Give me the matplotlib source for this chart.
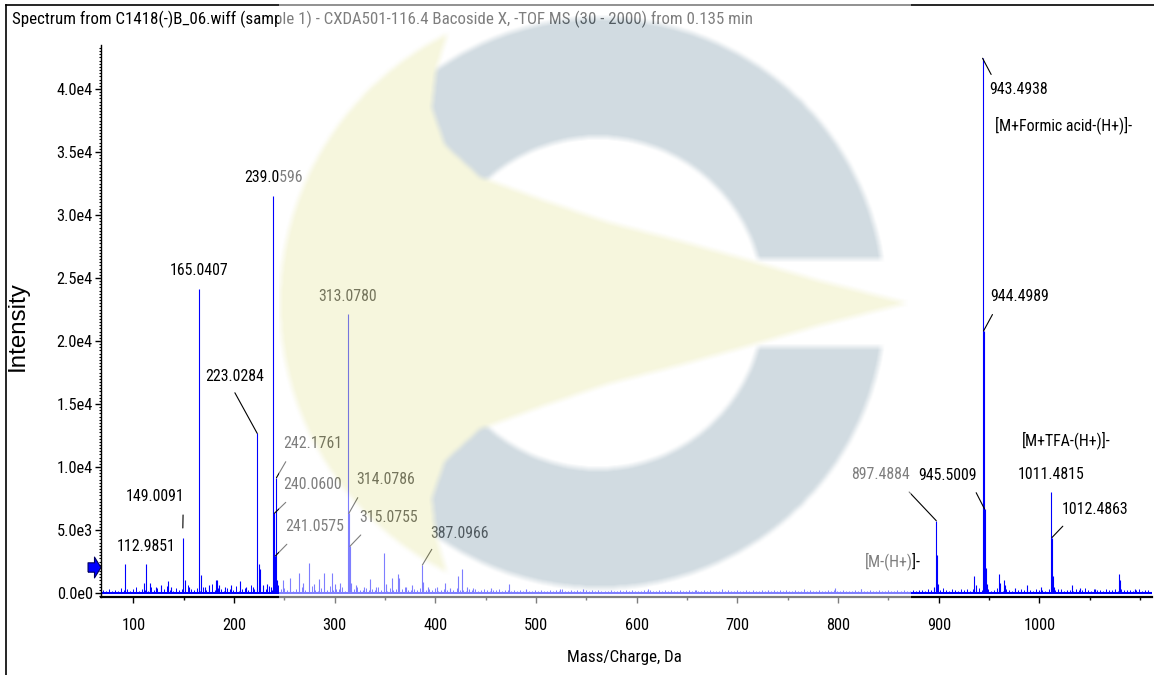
import numpy as np
import matplotlib
matplotlib.use('Agg')
import matplotlib.pyplot as plt
from matplotlib import font_manager
from matplotlib.font_manager import FontProperties
from matplotlib.path import Path
from matplotlib.lines import Line2D
from matplotlib.ticker import MultipleLocator

title = ("Spectrum from C1418(-)B_06.wiff (sample 1) - CXDA501-116.4 Bacoside X, "
         "-TOF MS (30 - 2000) from 0.135 min")

# main peaks (m/z, intensity)
peak_mz = [91.3, 111.0, 112.99, 117.0, 123.0, 127.0, 134.8, 137.0, 149.01, 151.0,
           155.0, 165.04, 167.2, 171.0, 175.0, 181.8, 183.0, 185.0, 191.0, 197.0,
           206.0, 212.0, 219.0, 223.03, 224.6, 225.5, 229.0, 233.0, 237.0, 239.06,
           240.06, 241.06, 242.18, 243.2, 249.0, 255.7, 264.5, 269.0, 274.8, 279.0,
           284.8, 289.4, 297.0, 300.0, 305.3, 313.08, 314.08, 315.08, 316.0, 321.0,
           329.0, 335.0, 341.0, 349.3, 351.0, 357.3, 363.3, 364.3, 371.0, 377.0,
           387.1, 388.1, 393.0, 402.0, 409.3, 415.0, 422.8, 426.8, 431.0, 437.0,
           455.0, 473.5, 490.0, 523.9, 547.0, 611.0, 659.0, 730.0, 797.0, 822.3,
           895.5, 897.49, 898.5, 899.5, 934.8, 936.7, 943.49, 944.50, 945.50, 946.5,
           947.5, 960.2, 961.2, 965.0, 966.0, 976.0, 987.6, 1001.4, 1011.48, 1012.49,
           1013.5, 1014.5, 1032.8, 1040.0, 1055.0, 1078.8, 1080.0, 1095.0]
peak_int = [2300, 820, 2280, 800, 500, 600, 950, 500, 4390, 1000,
            500, 24130, 1400, 500, 600, 1030, 1030, 600, 500, 600,
            980, 500, 500, 12670, 2330, 1900, 600, 700, 500, 31500,
            6320, 2940, 9150, 1000, 1030, 1200, 1560, 800, 2420, 700,
            1100, 1550, 1580, 700, 820, 22140, 6320, 3700, 800, 600,
            500, 1100, 500, 3200, 700, 1220, 1530, 1200, 500, 600,
            2220, 900, 500, 500, 820, 400, 1330, 1920, 500, 400,
            400, 700, 300, 350, 300, 300, 250, 250, 400, 350,
            500, 5740, 3000, 700, 1320, 600, 42440, 20800, 6660, 1980,
            700, 1470, 800, 1030, 600, 400, 600, 480, 8016, 4405,
            1350, 500, 600, 400, 350, 1520, 1000, 300]

# baseline noise, every 3 Da starting at m/z 70
grass_int = [220, 150, 310, 180, 260, 140, 420, 200, 350, 170, 280, 510, 190, 330, 240,
             160, 450, 260, 380, 210, 300, 560, 230, 180, 410, 270, 330, 150, 620, 290,
             240, 380, 180, 470, 250, 320, 700, 210, 360, 280, 190, 430, 300, 250, 520,
             180, 340, 410, 230, 600, 280, 350, 200, 460, 310, 520, 260, 380, 640, 300,
             380, 250, 420, 190, 350, 280, 460, 220, 310, 520, 260, 180, 400, 300, 240,
             560, 210, 330, 280, 450, 190, 360, 250, 300, 480, 220, 270, 390, 200, 340,
             260, 510, 230, 300, 180, 420, 270, 350, 210, 290, 460, 240, 200, 330, 270,
             380, 190, 250, 310, 220, 400, 180, 270, 330, 210, 290, 240, 360, 200, 260,
             190, 310, 230, 280, 170, 250, 320, 200, 180, 260, 220, 300, 170, 240, 200,
             190, 260,
             160, 220, 130, 250, 180, 140, 210, 170, 260, 120, 190, 230, 150, 200, 170,
             280, 140, 190, 220, 130, 240, 160, 180, 210, 150, 230, 120, 260, 170, 190,
             140, 220, 180, 150, 250, 130, 200, 170, 230, 160, 190, 120, 270, 150, 210,
             180, 140, 230, 170, 200, 130, 250, 160, 190, 220, 140, 180, 210, 150, 240,
             170, 130, 200, 180, 230, 150, 190, 160, 280, 140, 210, 170, 120, 230, 190,
             150, 200, 170, 240, 130, 180, 220, 160, 190, 140, 250, 170, 200, 150, 230,
             130, 190, 210, 160, 180, 300, 150, 200, 170, 140, 220, 190, 160, 230, 130,
             200, 180, 150, 240, 170, 190, 140, 210, 160, 320, 180, 130, 200, 170, 150,
             230, 190, 140, 210, 160, 180, 250, 150, 200, 170, 190, 230, 160, 210,
             260, 180, 320, 220, 150, 290, 240, 380, 200, 170, 310, 260, 190, 350, 230,
             280, 160, 300, 240, 410, 200, 270, 330, 180, 250, 360, 220, 190, 300, 260,
             170, 340, 230, 280, 200, 390, 250, 180, 310, 220, 270, 160, 330, 240, 200,
             290, 350, 190, 260, 230, 180, 310, 270, 210, 380, 240, 170, 300, 220, 260,
             190, 330, 250, 200, 280, 170, 310, 230, 200, 260, 190, 240, 300, 180, 220, 200]
grass_mz = 70 + 3 * np.arange(len(grass_int))

# labelled peaks
label_text = ["112.9851", "149.0091", "165.0407", "223.0284", "239.0596", "240.0600",
              "241.0575", "242.1761", "313.0780", "314.0786", "315.0755", "387.0966",
              "897.4884", "[M-(H+)]-", "943.4938", "[M+Formic acid-(H+)]-", "944.4989",
              "945.5009", "1011.4815", "[M+TFA-(H+)]-", "1012.4863"]
label_mz = [112.99, 149.01, 165.04, 223.03, 239.06, 240.06, 241.06, 242.18, 313.08,
            314.08, 315.08, 387.1, 897.49, 897.49, 943.49, 943.49, 944.50, 945.50,
            1011.48, 1011.48, 1012.49]
label_int = [2280, 4390, 24130, 12670, 31500, 6320, 2940, 9150, 22140, 6320, 3700, 2220,
             5740, 5740, 42440, 42440, 20800, 6660, 8016, 8016, 4405]

y_ticks = [0, 5000, 10000, 15000, 20000, 25000, 30000, 35000, 40000]
y_tick_labels = ["0.0e0", "5.0e3", "1.0e4", "1.5e4", "2.0e4", "2.5e4", "3.0e4", "3.5e4", "4.0e4"]
x_ticks = [100, 200, 300, 400, 500, 600, 700, 800, 900, 1000]

# layout: text offsets (pixels from peak top), leader segments (top end offset, gap at peak)
text_off = [(0, 18), (-28, 41), (0, 18), (-22, 57), (0, 19), (38, 29),
            (39, 29), (36, 34), (0, 18), (37, 34), (39, 29), (37, 32),
            (-56, 46), (-43, -40), (36, -31), (81, -67), (36, 34),
            (-37, 34), (0, 18), (15, 52), (43, 28)]
leader = [None, (0.4, 22.7, 9.7), None, (-22.3, 40.6, 0), None, (11.4, 11, 0),
          (11.5, 11.7, 0), (9.3, 16, 0), None, (8.9, 15.7, 0), (10.9, 11.4, 0), (9.4, 15.7, 0),
          (-27.1, 28.7, 0), None, (8.6, -16.2, 0), None, (8.9, 16.4, 0),
          (-8.4, 16.4, 0), None, None, (10.8, 11.3, 0)]


def pick_font():
    entries = [(f.name, str(f.stretch)) for f in font_manager.fontManager.ttflist]
    names = {n for n, _ in entries}
    for fam in ['Liberation Sans Narrow', 'Roboto Condensed', 'Open Sans Condensed',
                'Noto Sans Condensed', 'DejaVu Sans Condensed']:
        if fam in names:
            return fam, 'normal'
    for fam in ['Roboto', 'Open Sans', 'Noto Sans', 'DejaVu Sans', 'Liberation Sans']:
        for n, s in entries:
            if n == fam and s in ('condensed', 'semi-condensed', 'extra-condensed'):
                return fam, s
    return 'Liberation Sans', 'normal'


FAM, STRETCH = pick_font()
plt.rcParams['font.family'] = [FAM, 'DejaVu Sans']
plt.rcParams['font.stretch'] = STRETCH

W, H = 1154, 675
fig = plt.figure(figsize=(W / 100, H / 100), dpi=100)
fig.patch.set_facecolor('white')
renderer = fig.canvas.get_renderer()


def fit(s, target, family=None, stretch=None):
    fp = FontProperties(family=family or FAM, stretch=stretch or STRETCH, size=10)
    w, _, _ = renderer.get_text_width_height_descent(s, fp, ismath=False)
    return 10 * target / w


fs_lab = fit("239.0596", 59)
fs_tick = fit("4.0e4", 36)
fs_title = fit(title, 738)
fs_xlab = fit("Mass/Charge, Da", 114)
fs_ylab = fit("Intensity", 90, family='Liberation Sans', stretch='normal')

ax = fig.add_axes([101 / W, (H - 597) / H, 1051 / W, 552 / H])
ax.set_xlim(67.9, 1111.8)
ax.set_ylim(-317, 43492)

blue = '#0000ff'
ax.hlines(40, 67.9, 1111.8, colors=blue, lw=1.5)
ax.vlines(grass_mz, 0, grass_int, colors=blue, lw=0.7)
ax.vlines(peak_mz, 0, peak_int, colors=blue, lw=0.8)

for i, txt in enumerate(label_text):
    ax.annotate(txt, xy=(label_mz[i], label_int[i]), xytext=text_off[i],
                textcoords='offset pixels', ha='center', va='center',
                fontsize=fs_lab, color='black')
    if leader[i] is not None:
        lx, ly, gap = leader[i]
        ax.annotate('', xy=(label_mz[i], label_int[i]), xytext=(lx, ly),
                    textcoords='offset pixels',
                    arrowprops=dict(arrowstyle='-', color='black', lw=0.8,
                                    shrinkA=0, shrinkB=gap * 0.72))

# threshold arrow on the y axis
arrow = Path([(-0.62, -0.45), (0.0, -0.45), (0.0, -1.0), (0.62, 0.0), (0.0, 1.0),
              (0.0, 0.45), (-0.62, 0.45), (-0.62, -0.45)])
ax.plot([-0.0062], [2060], marker=arrow, ms=15, color=blue, mec='#000060', mew=0.8,
        transform=ax.get_yaxis_transform(), clip_on=False)

for s in ['top', 'right']:
    ax.spines[s].set_visible(False)
ax.spines['left'].set_linewidth(1.0)
ax.spines['bottom'].set_linewidth(1.6)

ax.set_yticks(y_ticks)
ax.set_yticklabels(y_tick_labels)
ax.set_xticks(x_ticks)
ax.yaxis.set_minor_locator(MultipleLocator(250))
ax.xaxis.set_minor_locator(MultipleLocator(50))
ax.tick_params(axis='y', which='major', length=4, width=1, pad=2, labelsize=fs_tick)
ax.tick_params(axis='y', which='minor', length=1.8, width=0.8)
ax.tick_params(axis='x', which='major', length=4, width=1, pad=11, labelsize=fs_tick)
ax.tick_params(axis='x', which='minor', length=2.5, width=1)

ax.set_xlabel("Mass/Charge, Da", fontsize=fs_xlab, va='center')
ax.xaxis.set_label_coords(0.4977, -0.1105)
ax.set_ylabel("Intensity", fontsize=fs_ylab, va='center',
              family=['Liberation Sans', 'DejaVu Sans'], stretch='normal')
ax.yaxis.set_label_coords(-0.079, 0.491)

fig.text(12 / W, 1 - 19 / H, title, ha='left', va='center', fontsize=fs_title)

# frame lines of the original window
fig.add_artist(Line2D([6 / W, 1], [1 - 5 / H, 1 - 5 / H], color='black', lw=1.2))
fig.add_artist(Line2D([6 / W, 6 / W], [0, 1 - 5 / H], color='black', lw=1.2))

# semi-transparent logo watermark over the middle of the window
yy, xx = np.mgrid[0:H, 0:W] + 0.5
box = (xx >= 279) & (xx <= 911) & (yy <= 604)
ang = np.radians(np.linspace(-116.4, -243.6, 60))
arc = np.column_stack([580 + 300 * np.cos(ang), 303 + 300 * np.sin(ang)])
right_edge = np.array([(436, 536), (432, 498), (445, 461), (480, 429), (540, 407), (607, 384),
                       (680, 365), (741, 348), (820, 325), (907, 303), (820, 281), (741, 258),
                       (680, 241), (607, 222), (540, 199), (480, 177), (445, 145), (432, 108),
                       (436, 70), (447, 35)])
poly = Path(np.vstack([arc, right_edge]))
pts = np.column_stack([xx.ravel(), yy.ravel()])
yellow = poly.contains_points(pts).reshape(H, W).astype(float)
outer = (xx - 600) ** 2 + (yy - 303) ** 2 < 285 ** 2
inner = (xx - 598) ** 2 + (yy - 303) ** 2 < 166 ** 2
slot = (xx > 600) & (np.abs(yy - 303) < 44)
grey = (outer & ~inner & ~slot).astype(float) * (1 - yellow)


def soften(m, r=3):
    # small box blur so the logo edges are not razor sharp
    k = 2 * r + 1
    p = np.pad(m, r, mode='edge')
    c = np.cumsum(np.cumsum(p, 0), 1)
    c = np.pad(c, ((1, 0), (1, 0)))
    return (c[k:, k:] - c[:-k, k:] - c[k:, :-k] + c[:-k, :-k]) / k ** 2


yellow = soften(yellow)
grey = soften(grey)
col_y = np.array([237, 237, 187]) / 255
col_g = np.array([163, 183, 195]) / 255
white = 1 - yellow - grey
rgb = white[..., None] * 1.0 + yellow[..., None] * col_y + grey[..., None] * col_g
overlay = np.zeros((H, W, 4))
overlay[..., :3] = rgb
overlay[..., 3] = np.where(box, 0.5, 0.0)
fig.figimage(overlay, xo=0, yo=0, origin='upper', zorder=10)

fig.savefig('out.png', dpi=100)
